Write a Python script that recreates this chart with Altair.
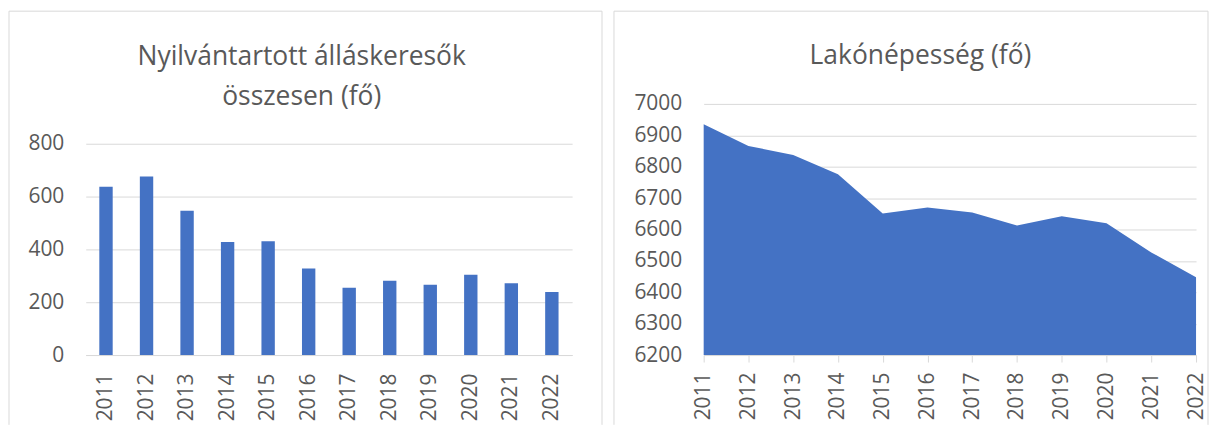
import altair as alt
import pandas as pd

# ---- data ----
years = ["2011", "2012", "2013", "2014", "2015", "2016",
         "2017", "2018", "2019", "2020", "2021", "2022"]
jobseekers = [637, 676, 546, 428, 431, 328, 255, 281, 266, 304, 272, 239]
population = [6935, 6866, 6837, 6776, 6651, 6670, 6654, 6613, 6642, 6620, 6527, 6448]
left_title = ["Nyilvántartott álláskeresők", "összesen (fő)"]
right_title = "Lakónépesség (fő)"
bar_ticks = [0, 200, 400, 600, 800]
pop_ticks = [6200, 6300, 6400, 6500, 6600, 6700, 6800, 6900, 7000]
pop_base = 6200

BLUE = "#4472C4"
GRID = "#D9D9D9"
TEXT = "#595959"
FONT = "Open Sans"

df_jobs = pd.DataFrame({"year": years, "value": jobseekers})
df_pop = pd.DataFrame({"year": years, "value": population})
one = pd.DataFrame({"k": [0]})


def frame(left, right, top, bottom):
    base = alt.Chart(one)
    l = base.mark_rule(color=GRID, strokeWidth=1).encode(
        x=alt.value(left), y=alt.value(top), y2=alt.value(bottom))
    r = base.mark_rule(color=GRID, strokeWidth=1).encode(
        x=alt.value(right), y=alt.value(top), y2=alt.value(bottom))
    t = base.mark_rule(color=GRID, strokeWidth=1).encode(
        x=alt.value(left), x2=alt.value(right), y=alt.value(top))
    return [l, r, t]


def title_text(text, x, y):
    return alt.Chart(one).mark_text(
        font=FONT, fontSize=26.5, color=TEXT, align="center",
        baseline="alphabetic", lineHeight=40,
    ).encode(x=alt.value(x), y=alt.value(y), text=alt.value(text))


H = 252  # common plot height (both panels share the plot top)

# ---- left: bar chart ----
LW = 488
bars = alt.Chart(df_jobs).mark_bar(color=BLUE).encode(
    x=alt.X("year:N", sort=years,
            scale=alt.Scale(paddingInner=0.67, paddingOuter=0.335),
            axis=alt.Axis(title=None, labelAngle=-90, labelPadding=18,
                          ticks=False, domain=True, domainColor=GRID,
                          grid=False)),
    y=alt.Y("value:Q", scale=alt.Scale(domain=[0, 951], nice=False),
            axis=alt.Axis(title=None, values=bar_ticks, format="d",
                          labelPadding=22, ticks=False, domain=False,
                          grid=True, gridColor=GRID)),
)
left = alt.layer(
    *frame(-77, 518, -93, 322),
    title_text(left_title, 216.7, -38.7),
    bars,
).properties(width=LW, height=H)

# ---- right: area chart ----
RW = 494
area = alt.Chart(df_pop).mark_area(color=BLUE, opacity=1).encode(
    x=alt.X("year:O", sort=years, scale=alt.Scale(type="point", padding=0),
            axis=alt.Axis(title=None, labelAngle=-90, labelPadding=10,
                          ticks=True, tickSize=7, tickColor=GRID,
                          domain=True, domainColor=GRID, grid=False)),
    y=alt.Y("value:Q",
            scale=alt.Scale(domain=[6200, 7000], nice=False, zero=False),
            axis=alt.Axis(title=None, values=pop_ticks, format="d",
                          labelPadding=22, ticks=False, domain=False,
                          grid=True, gridColor=GRID)),
    y2=alt.Y2(datum=pop_base),
)
right = alt.layer(
    *frame(-90, 506, -93, 322),
    title_text(right_title, 217.5, -40),
    area,
).properties(width=RW, height=H)

chart = alt.hconcat(left, right, spacing=10).properties(
    padding={"left": 0, "top": 1.5, "right": 0, "bottom": 0}
).configure_axis(
    labelFont=FONT, labelFontSize=21, labelColor=TEXT
).configure_view(strokeWidth=0)

chart.save("out.html", embed_options={"renderer": "svg", "actions": False})
